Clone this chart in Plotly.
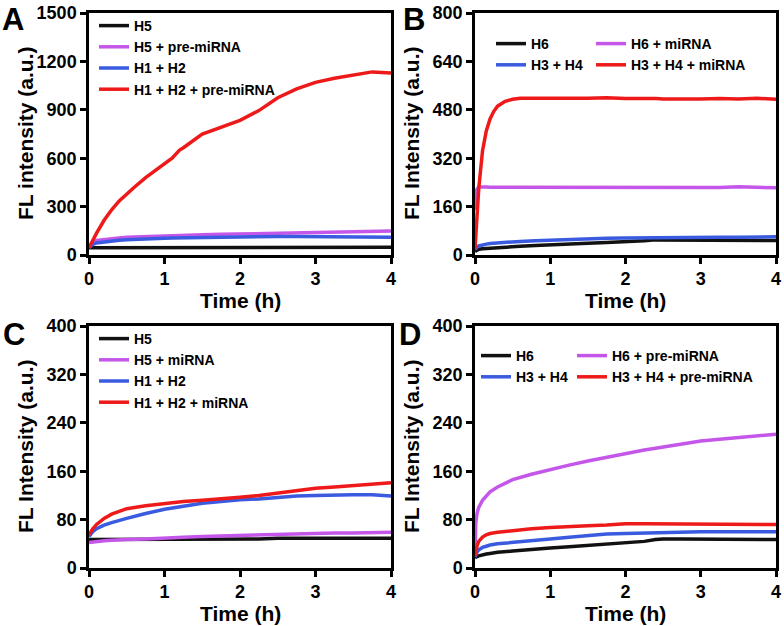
import plotly.graph_objects as go

W, H = 784, 626

# ---- data (time in h, FL intensity in a.u.) ----
tA = [0, 0.05, 0.1, 0.2, 0.3, 0.4, 0.5, 0.6, 0.75, 0.9, 1.0, 1.1, 1.2, 1.25,
      1.5, 1.75, 2.0, 2.25, 2.5, 2.75, 3.0, 3.25, 3.5, 3.75, 4.0]
a_h5 = [45, 45, 46, 46, 46, 46, 46, 46, 47, 47, 47, 47, 47, 47,
        47, 47, 48, 48, 48, 48, 48, 48, 48, 48, 48]
a_h5_pre = [55, 80, 90, 97, 102, 106, 110, 112, 115, 118, 120, 122, 123, 124,
            126, 128, 130, 131, 133, 135, 137, 140, 143, 146, 148]
a_h1h2 = [45, 65, 75, 82, 87, 91, 94, 97, 100, 102, 104, 106, 107, 108,
          110, 112, 113, 114, 115, 115, 115, 114, 113, 112, 110]
a_h1h2_pre = [45, 95, 135, 215, 280, 335, 380, 420, 480, 530, 560, 600, 650, 665,
              750, 795, 835, 895, 975, 1030, 1070, 1095, 1115, 1135, 1128]

tB = [0, 0.02, 0.05, 0.1, 0.15, 0.2, 0.25, 0.3, 0.4, 0.5, 0.6, 0.8, 1.0,
      1.25, 1.5, 1.75, 2.0, 2.25, 2.4, 2.5, 2.75, 3.0, 3.25, 3.5, 3.75, 4.0]
b_h6 = [12, 16, 19, 21, 22, 23, 24, 25, 27, 28, 29, 31, 34,
        37, 39, 41, 43, 47, 50, 50, 49, 49, 49, 48, 48, 48]
b_h6_mi = [150, 215, 225, 226, 225, 224, 224, 224, 223, 223, 223, 223, 222,
           222, 223, 223, 222, 223, 223, 222, 222, 223, 223, 226, 223, 222]
b_h3h4 = [18, 25, 30, 34, 36, 38, 39, 40, 42, 44, 45, 47, 49,
          51, 53, 55, 56, 57, 58, 58, 58, 58, 59, 59, 60, 60]
b_h3h4_mi = [20, 90, 220, 345, 410, 450, 475, 492, 508, 515, 518, 518, 517,
             518, 518, 520, 517, 518, 517, 516, 515, 516, 517, 516, 518, 515]

tC = [0, 0.05, 0.1, 0.2, 0.3, 0.4, 0.5, 0.75, 1.0, 1.25, 1.5, 1.75, 2.0,
      2.25, 2.5, 2.6, 2.75, 3.0, 3.25, 3.5, 3.75, 4.0]
c_h5 = [47, 47, 47, 47, 48, 48, 48, 48, 48, 48, 48, 48, 48,
        48, 49, 49, 49, 49, 49, 49, 49, 49]
c_h5_mi = [42, 43, 44, 45, 46, 47, 47, 48, 50, 51, 52, 53, 54,
           55, 55, 56, 57, 57, 58, 58, 59, 59]
c_h1h2 = [52, 60, 65, 71, 75, 79, 82, 90, 97, 102, 107, 110, 113,
          114, 117, 118, 119, 120, 121, 121, 121, 119]
c_h1h2_mi = [55, 65, 72, 82, 89, 94, 98, 103, 107, 110, 112, 114, 117,
             120, 124, 126, 128, 132, 134, 136, 139, 141]

tD = [0, 0.01, 0.03, 0.05, 0.1, 0.15, 0.2, 0.3, 0.5, 0.75, 1.0, 1.25, 1.5,
      1.75, 2.0, 2.25, 2.4, 2.5, 2.75, 3.0, 3.25, 3.5, 3.75, 4.0]
d_h6 = [17, 18, 19, 20, 22, 23, 24, 26, 28, 31, 33, 35, 37,
        39, 41, 44, 47, 48, 48, 48, 48, 47, 47, 47]
d_h6_pre = [20, 75, 92, 100, 112, 120, 126, 134, 146, 155, 163, 170, 177,
            183, 190, 195, 198, 200, 205, 210, 213, 216, 218, 221]
d_h3h4 = [18, 22, 27, 30, 34, 36, 38, 40, 42, 45, 48, 51, 54,
          56, 57, 58, 59, 59, 60, 60, 60, 60, 60, 60]
d_h3h4_pre = [20, 28, 38, 44, 51, 55, 57, 59, 62, 65, 67, 69, 70,
              71, 73, 73, 73, 73, 73, 73, 73, 72, 72, 72]

yticksA = [0, 300, 600, 900, 1200, 1500]
yticksB = [0, 160, 320, 480, 640, 800]
yticksCD = [0, 80, 160, 240, 320, 400]
xticks = [0, 1, 2, 3, 4]

BLACK = '#111111'
PURPLE = '#c457ea'
BLUE = '#3a5be0'
RED = '#ee1a1a'
FONT = 'Liberation Sans, Arial, sans-serif'


def px(x):
    return x / W


def py(y):
    return 1 - y / H


fig = go.Figure()

# panel -> (axis suffix, time, series list)
panels = [
    ('', tA, [('H5', a_h5, BLACK, 'legend'),
              ('H5 + pre-miRNA', a_h5_pre, PURPLE, 'legend'),
              ('H1 + H2', a_h1h2, BLUE, 'legend'),
              ('H1 + H2 + pre-miRNA', a_h1h2_pre, RED, 'legend')]),
    ('2', tB, [('H6', b_h6, BLACK, 'legend2'),
               ('H6 + miRNA', b_h6_mi, PURPLE, 'legend3'),
               ('H3 + H4', b_h3h4, BLUE, 'legend2'),
               ('H3 + H4 + miRNA', b_h3h4_mi, RED, 'legend3')]),
    ('3', tC, [('H5', c_h5, BLACK, 'legend4'),
               ('H5 + miRNA', c_h5_mi, PURPLE, 'legend4'),
               ('H1 + H2', c_h1h2, BLUE, 'legend4'),
               ('H1 + H2 + miRNA', c_h1h2_mi, RED, 'legend4')]),
    ('4', tD, [('H6', d_h6, BLACK, 'legend5'),
               ('H6 + pre-miRNA', d_h6_pre, PURPLE, 'legend6'),
               ('H3 + H4', d_h3h4, BLUE, 'legend5'),
               ('H3 + H4 + pre-miRNA', d_h3h4_pre, RED, 'legend6')]),
]

for suf, t, series in panels:
    for name, vals, col, leg in series:
        fig.add_trace(go.Scatter(
            x=t, y=vals, mode='lines', name=name,
            line=dict(color=col, width=3.5),
            xaxis='x' + suf, yaxis='y' + suf, legend=leg,
        ))

# plot areas in pixels: (left, right, top, bottom)
boxes = {
    '': (89, 391, 13, 255),
    '2': (475, 776, 13, 255),
    '3': (89, 391, 326, 568),
    '4': (475, 776, 326, 568),
}
yranges = {'': (yticksA, 1500), '2': (yticksB, 800),
           '3': (yticksCD, 400), '4': (yticksCD, 400)}

axis_common = dict(
    showline=True, linecolor='black', linewidth=2.5, mirror=True,
    showgrid=False, zeroline=False,
    ticks='outside', ticklen=6, tickwidth=2.5, tickcolor='black',
    tickfont=dict(family=FONT, size=18, color='black', weight='bold'),
)

layout = dict(
    width=W, height=H,
    margin=dict(l=0, r=0, t=0, b=0, autoexpand=False),
    plot_bgcolor='white', paper_bgcolor='white',
    font=dict(family=FONT, color='black'),
)
annotations = []
for suf, (l, r, t, b) in boxes.items():
    yt, ymax = yranges[suf]
    layout['xaxis' + suf] = dict(
        axis_common, domain=[px(l), px(r)], range=[0, 4], tickvals=xticks,
        anchor='y' + suf)
    layout['yaxis' + suf] = dict(
        axis_common, domain=[py(b), py(t)], range=[0, ymax], tickvals=yt,
        anchor='x' + suf)
    annotations.append(dict(
        text='Time (h)', x=px((l + r) / 2), y=py(b + 45), xref='paper',
        yref='paper', xanchor='center', yanchor='middle', showarrow=False,
        font=dict(size=21, weight='bold')))
    ytitle = 'FL intensity (a.u.)' if suf == '' else 'FL Intensity (a.u.)'
    annotations.append(dict(
        text=ytitle, x=px(l - 64), y=py((t + b) / 2), xref='paper',
        yref='paper', xanchor='center', yanchor='middle', showarrow=False,
        textangle=-90, font=dict(size=21, weight='bold')))

# panel letters
for letter, (lx, ly) in {'A': (13, 20), 'B': (414, 20),
                         'C': (14, 334), 'D': (410, 334)}.items():
    annotations.append(dict(
        text=letter, x=px(lx), y=py(ly), xref='paper', yref='paper',
        xanchor='center', yanchor='middle', showarrow=False,
        font=dict(size=31, weight='bold')))

layout['annotations'] = annotations

leg_common = dict(
    bgcolor='rgba(0,0,0,0)', itemwidth=30, tracegroupgap=0,
    font=dict(family=FONT, size=14, color='black', weight='bold'),
    xanchor='left', yanchor='top', orientation='v',
)
# legend positions in pixels (left, top)
legpos = {'legend': (94, 10), 'legend2': (491, 28), 'legend3': (591, 28),
          'legend4': (94, 323), 'legend5': (476, 340), 'legend6': (572, 340)}
for key, (lx, ly) in legpos.items():
    layout[key] = dict(leg_common, x=px(lx), y=py(ly))

fig.update_layout(**layout)
# drop the default 8px page margin so the figure sits at the window corner
fig.write_html('out.html', config={'displayModeBar': False},
               post_script="document.body.style.margin='0';")
